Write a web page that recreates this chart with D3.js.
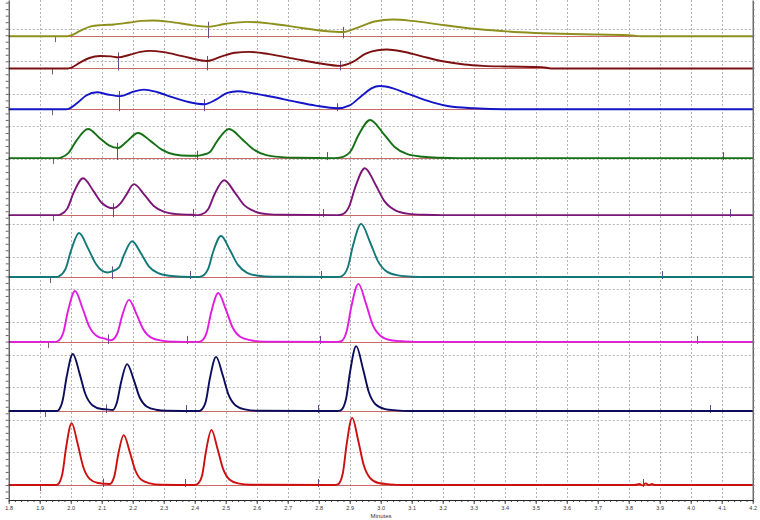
<!DOCTYPE html>
<html><head><meta charset="utf-8">
<script src="https://cdn.jsdelivr.net/npm/d3@7"></script>
<style>body{margin:0;background:#fff;} svg{display:block;font-family:"Liberation Sans",Arial,sans-serif;}</style>
</head><body><svg id="c" width="760" height="520"></svg>
<script>
// ---------- DATA ----------
const xTickLabels = ["1.8","1.9","2.0","2.1","2.2","2.3","2.4","2.5","2.6","2.7","2.8","2.9","3.0","3.1","3.2","3.3","3.4","3.5","3.6","3.7","3.8","3.9","4.0","4.1","4.2"];
const xTitle = "Minutes";
const gridLevels = [0,1,2,3,4,5,6,7,8,9,10,11,12,13,14];
// stacked offsets of the nine chromatograms (top to bottom)
const baselineLevels = [13.77, 12.78, 11.53, 10.03, 8.28, 6.38, 4.39, 2.27, 0];

// [minutes, signal] key points
const traceOlive = [[1.80,0],[1.99,0],[2.0,0.02],[2.03,0.16],[2.065,0.30],[2.1,0.34],[2.14,0.36],[2.19,0.42],[2.23,0.47],[2.265,0.48],[2.32,0.44],[2.39,0.34],[2.443,0.29],[2.5,0.38],[2.57,0.44],[2.65,0.38],[2.74,0.26],[2.82,0.16],[2.88,0.13],[2.93,0.28],[2.98,0.45],[3.04,0.51],[3.1,0.47],[3.18,0.37],[3.27,0.26],[3.36,0.18],[3.45,0.12],[3.55,0.08],[3.65,0.06],[3.8,0.03],[3.84,0.0],[4.2,0]];
const traceMaroon = [[1.80,0],[1.99,0],[2.0,0.02],[2.03,0.18],[2.06,0.32],[2.095,0.38],[2.13,0.37],[2.153,0.34],[2.19,0.42],[2.225,0.51],[2.256,0.54],[2.3,0.50],[2.36,0.38],[2.44,0.23],[2.49,0.38],[2.53,0.48],[2.575,0.51],[2.64,0.44],[2.72,0.30],[2.8,0.16],[2.87,0.08],[2.91,0.2],[2.95,0.45],[2.99,0.56],[3.02,0.58],[3.07,0.52],[3.13,0.38],[3.2,0.22],[3.27,0.12],[3.33,0.08],[3.4,0.06],[3.52,0.04],[3.55,0.0],[4.2,0]];
const traceBlue = [[1.80,0],[1.985,0],[1.995,0.02],[2.02,0.18],[2.05,0.42],[2.085,0.52],[2.12,0.45],[2.16,0.40],[2.2,0.53],[2.236,0.60],[2.28,0.52],[2.33,0.36],[2.38,0.22],[2.43,0.15],[2.47,0.3],[2.505,0.5],[2.54,0.55],[2.58,0.50],[2.65,0.38],[2.72,0.24],[2.79,0.11],[2.86,0.03],[2.9,0.12],[2.94,0.42],[2.97,0.64],[2.998,0.71],[3.04,0.64],[3.08,0.50],[3.12,0.36],[3.17,0.20],[3.22,0.09],[3.3,0.03],[3.4,0],[4.2,0]];
const traceGreen = [[1.80,0],[1.962,0],[1.97,0.02],[1.993,0.16],[2.018,0.53],[2.056,0.89],[2.095,0.6],[2.125,0.38],[2.153,0.31],[2.18,0.5],[2.217,0.77],[2.258,0.52],[2.295,0.25],[2.335,0.11],[2.38,0.07],[2.405,0.07],[2.425,0.1],[2.448,0.18],[2.473,0.53],[2.511,0.89],[2.553,0.58],[2.589,0.27],[2.631,0.09],[2.68,0.03],[2.73,0.01],[2.85,0],[2.872,0.02],[2.903,0.21],[2.928,0.70],[2.966,1.17],[3.008,0.76],[3.044,0.35],[3.086,0.12],[3.136,0.04],[3.19,0.01],[3.25,0],[4.2,0]];
const tracePurple = [[1.80,0],[1.96,0],[1.968,0.02],[1.989,0.2],[2.009,0.68],[2.04,1.13],[2.074,0.73],[2.10,0.38],[2.137,0.21],[2.16,0.35],[2.178,0.6],[2.204,0.95],[2.238,0.62],[2.267,0.29],[2.3,0.11],[2.344,0.03],[2.39,0.01],[2.41,0],[2.422,0.02],[2.444,0.19],[2.464,0.64],[2.495,1.07],[2.529,0.70],[2.558,0.32],[2.595,0.11],[2.635,0.03],[2.68,0.01],[2.86,0],[2.875,0.02],[2.898,0.26],[2.918,0.86],[2.949,1.44],[2.983,0.94],[3.012,0.43],[3.049,0.14],[3.09,0.04],[3.14,0.01],[3.2,0],[4.2,0]];
const traceTeal = [[1.80,0],[1.955,0],[1.962,0.02],[1.983,0.24],[2.001,0.81],[2.027,1.35],[2.056,0.88],[2.081,0.41],[2.10,0.2],[2.118,0.14],[2.135,0.18],[2.156,0.3],[2.172,0.68],[2.198,1.10],[2.227,0.72],[2.252,0.33],[2.282,0.12],[2.318,0.04],[2.36,0.01],[2.41,0],[2.422,0.02],[2.443,0.24],[2.459,0.76],[2.485,1.26],[2.514,0.82],[2.539,0.38],[2.569,0.13],[2.605,0.04],[2.65,0.01],[2.86,0],[2.873,0.02],[2.894,0.3],[2.911,0.98],[2.937,1.63],[2.966,1.06],[2.991,0.49],[3.021,0.16],[3.057,0.05],[3.1,0.01],[3.15,0],[4.2,0]];
const traceMagenta = [[1.80,0],[1.95,0],[1.958,0.02],[1.976,0.28],[1.991,0.94],[2.014,1.56],[2.039,1.01],[2.06,0.47],[2.086,0.17],[2.11,0.10],[2.13,0.05],[2.15,0.25],[2.165,0.77],[2.188,1.29],[2.213,0.84],[2.234,0.39],[2.26,0.13],[2.293,0.04],[2.33,0.01],[2.41,0],[2.42,0.02],[2.438,0.27],[2.453,0.9],[2.476,1.50],[2.501,0.98],[2.522,0.45],[2.548,0.15],[2.581,0.05],[2.62,0.01],[2.86,0],[2.872,0.02],[2.89,0.32],[2.905,1.07],[2.928,1.78],[2.953,1.16],[2.974,0.53],[3.0,0.18],[3.033,0.05],[3.07,0.02],[3.11,0],[4.2,0]];
const traceNavy = [[1.80,0],[1.955,0],[1.96,0.02],[1.974,0.32],[1.987,1.05],[2.007,1.75],[2.029,1.14],[2.047,0.53],[2.07,0.18],[2.10,0.06],[2.115,0.05],[2.135,0.03],[2.149,0.26],[2.162,0.86],[2.182,1.44],[2.204,0.94],[2.222,0.43],[2.245,0.14],[2.275,0.04],[2.31,0.01],[2.415,0],[2.42,0.02],[2.436,0.30],[2.449,1.0],[2.469,1.66],[2.491,1.08],[2.509,0.50],[2.532,0.17],[2.562,0.05],[2.60,0.01],[2.86,0],[2.871,0.02],[2.888,0.36],[2.901,1.19],[2.921,1.99],[2.943,1.29],[2.961,0.60],[2.984,0.20],[3.014,0.06],[3.05,0.02],[3.09,0],[4.2,0]];
const traceRed = [[1.80,0],[1.95,0],[1.958,0.02],[1.973,0.34],[1.985,1.14],[2.003,1.90],[2.023,1.24],[2.040,0.57],[2.061,0.19],[2.088,0.06],[2.11,0.04],[2.126,0.03],[2.141,0.28],[2.153,0.92],[2.171,1.53],[2.191,1.0],[2.208,0.46],[2.229,0.15],[2.256,0.05],[2.29,0.01],[2.40,0],[2.409,0.03],[2.424,0.30],[2.436,1.01],[2.454,1.69],[2.474,1.10],[2.491,0.51],[2.512,0.17],[2.54,0.05],[2.58,0.01],[2.85,0],[2.863,0.03],[2.878,0.37],[2.89,1.24],[2.908,2.06],[2.928,1.34],[2.945,0.62],[2.966,0.21],[2.993,0.06],[3.03,0.02],[3.07,0],[3.82,0],[3.835,0.03],[3.845,-0.01],[3.855,0.05],[3.865,0.0],[3.875,0.03],[3.885,0],[4.2,0]];

// peak start / split marks (minutes)
const marksOlive = [1.949, 2.443, 2.879];
const marksMaroon = [1.940, 2.153, 2.440, 2.869];
const marksBlue = [1.940, 2.156, 2.431, 2.859];
const marksGreen = [1.943, 2.150, 2.408, 2.827, 4.103];
const marksPurple = [1.943, 2.137, 2.395, 2.814, 4.126];
const marksTeal = [1.933, 2.133, 2.385, 2.807, 3.909];
const marksMagenta = [1.927, 2.120, 2.375, 2.804, 4.021];
const marksNavy = [1.917, 2.114, 2.372, 2.798, 4.063];
const marksRed = [1.901, 2.104, 2.369, 2.798, 3.846];

const traces = [traceOlive, traceMaroon, traceBlue, traceGreen, tracePurple, traceTeal, traceMagenta, traceNavy, traceRed];
const marks = [marksOlive, marksMaroon, marksBlue, marksGreen, marksPurple, marksTeal, marksMagenta, marksNavy, marksRed];

// ---------- STYLE ----------
const colors = ["#8f8f1e", "#7d1010", "#1414c8", "#167016", "#7a1678", "#137878", "#e01ce0", "#0c0c5c", "#cc1010"];

// ---------- DRAW ----------
const svg = d3.select("#c");
const x = d3.scaleLinear().domain([1.8, 4.2]).range([8.7, 752.7]);
const y = d3.scaleLinear().domain([-0.46, 14.88]).range([500, 0]);

// grid
const grid = svg.append("g").attr("stroke", "#b4b4b4").attr("stroke-dasharray", "2,2").attr("stroke-width", 1);
grid.selectAll("line.v").data(xTickLabels.slice(1, -1)).join("line")
  .attr("x1", d => Math.round(x(+d)) + 0.5).attr("x2", d => Math.round(x(+d)) + 0.5)
  .attr("y1", 0).attr("y2", 500);
grid.selectAll("line.h").data(gridLevels).join("line")
  .attr("x1", x(1.8)).attr("x2", x(4.2))
  .attr("y1", d => Math.round(y(d)) + 0.5).attr("y2", d => Math.round(y(d)) + 0.5);

// baselines
svg.append("g").selectAll("line").data(baselineLevels).join("line")
  .attr("x1", x(1.8)).attr("x2", x(4.2))
  .attr("y1", d => Math.round(y(d)) + 0.5).attr("y2", d => Math.round(y(d)) + 0.5)
  .attr("stroke", "#c86868").attr("stroke-width", 1);

// marks
function valueAt(pts, t) {
  for (let i = 1; i < pts.length; i++) {
    if (pts[i][0] >= t) {
      const a = pts[i - 1], b = pts[i];
      const f = (t - a[0]) / (b[0] - a[0] || 1);
      return a[1] + f * (b[1] - a[1]);
    }
  }
  return 0;
}
const markG = svg.append("g");
marks.forEach((ms, k) => {
  const base = baselineLevels[k];
  ms.forEach((t, i) => {
    const xb = Math.round(x(t)) + 0.5;
    const yb = y(base);
    let y1, y2;
    if (i === 0) { y1 = yb; y2 = yb + 6; }
    else {
      const yv = y(base + Math.max(0, valueAt(traces[k], t)));
      y1 = yb + 2; y2 = Math.min(yv - 5, yb - 6);
    }
    markG.append("line").attr("x1", xb).attr("x2", xb).attr("y1", y1).attr("y2", y2)
      .attr("stroke", i === 0 ? "#8a5a6a" : "#6a4a8a").attr("stroke-width", 1);
  });
});

// traces
const line = d3.line().x(d => x(d[0])).curve(d3.curveMonotoneX);
svg.append("g").selectAll("path").data(traces).join("path")
  .attr("d", (pts, k) => line.y(d => y(baselineLevels[k] + d[1]))(pts))
  .attr("fill", "none")
  .attr("stroke", (d, k) => colors[k])
  .attr("stroke-width", 1.9)
  .attr("stroke-linejoin", "round");

// axes
const axB = svg.append("g").attr("transform", "translate(0,500)");
axB.call(d3.axisBottom(x).ticks(120).tickSize(2).tickSizeOuter(0).tickFormat(""));
axB.append("g").call(d3.axisBottom(x).tickValues(xTickLabels.map(Number)).tickSize(4).tickSizeOuter(0).tickFormat((d, i) => xTickLabels[i]));
axB.selectAll("path.domain").attr("stroke", "#222");
axB.selectAll("line").attr("stroke", "#444");
axB.selectAll("text").attr("font-size", 5.5).attr("fill", "#333").attr("dy", "0.55em");

const axL = svg.append("g").attr("transform", `translate(${x(1.8)},0)`);
axL.call(d3.axisLeft(y).tickValues(d3.range(-2, 75).map(v => v / 5)).tickSize(3).tickSizeOuter(0).tickFormat(""));
axL.selectAll("path.domain").attr("stroke", "#222");
axL.selectAll("line").attr("stroke", "#666");

const axR = svg.append("g").attr("transform", `translate(${x(4.2)},0)`);
axR.call(d3.axisRight(y).tickValues(d3.range(-2, 75).map(v => v / 5)).tickSize(2).tickSizeOuter(0).tickFormat(""));
axR.selectAll("path.domain").attr("stroke", "#222");
axR.selectAll("line").attr("stroke", "#888");

svg.append("text").attr("x", 381).attr("y", 518).attr("text-anchor", "middle")
  .attr("font-size", 6).attr("fill", "#333").text(xTitle);
</script></body></html>
